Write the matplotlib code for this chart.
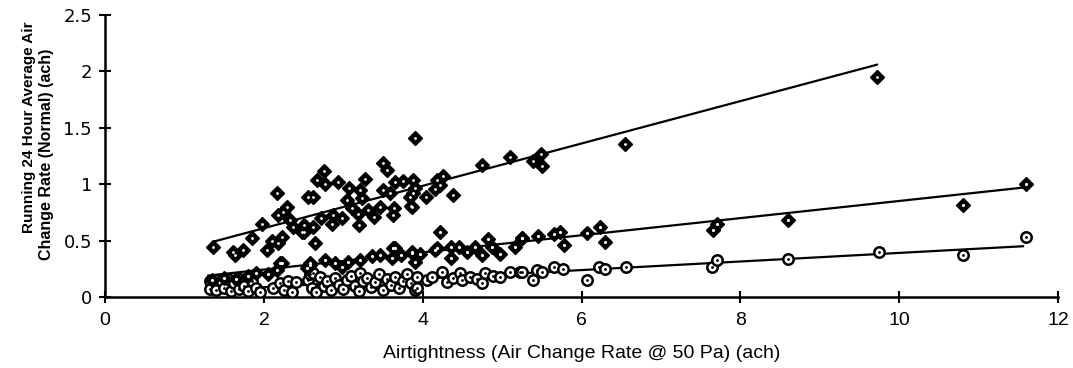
import numpy as np
import matplotlib.pyplot as plt

plt.rcParams['font.family'] = ['Liberation Sans', 'DejaVu Sans']

# upper series (diamonds)
hi_x = [1.36, 1.61, 1.64, 1.73, 1.85, 1.98, 2.04, 2.10, 2.17, 2.18, 2.18, 2.23, 2.24, 2.29, 2.33,
        2.37, 2.48, 2.50, 2.50, 2.56, 2.62, 2.62, 2.64, 2.67, 2.72, 2.75, 2.77, 2.86, 2.87, 2.93,
        2.98, 3.05, 3.07, 3.11, 3.19, 3.20, 3.21, 3.24, 3.27, 3.31, 3.39, 3.46, 3.50, 3.50, 3.55,
        3.59, 3.63, 3.64, 3.65, 3.75, 3.84, 3.85, 3.87, 3.88, 3.88, 3.90, 3.90, 4.04, 4.16, 4.18,
        4.22, 4.26, 4.38, 4.75, 5.10, 5.39, 5.49, 5.50, 6.55, 9.72]
hi_y = [0.44, 0.40, 0.37, 0.42, 0.52, 0.65, 0.42, 0.50, 0.92, 0.48, 0.73, 0.53, 0.75, 0.80, 0.68,
        0.62, 0.58, 0.64, 0.58, 0.89, 0.62, 0.89, 0.48, 1.04, 0.70, 1.12, 1.00, 0.65, 0.73, 1.02,
        0.70, 0.86, 0.97, 0.79, 0.74, 0.64, 0.95, 0.88, 1.05, 0.77, 0.71, 0.80, 1.19, 0.95, 1.13,
        0.92, 0.73, 0.79, 1.02, 1.03, 0.89, 0.81, 0.80, 1.04, 0.92, 1.41, 0.97, 0.89, 0.96, 1.04,
        0.99, 1.07, 0.90, 1.17, 1.24, 1.21, 1.27, 1.16, 1.36, 1.95]

# middle series (diamonds)
mid_x = [1.35, 1.50, 1.65, 1.80, 1.90, 2.05, 2.17, 2.20, 2.23, 2.54, 2.58, 2.58, 2.77, 2.90,
         2.98, 3.06, 3.21, 3.36, 3.46, 3.61, 3.63, 3.65, 3.72, 3.87, 3.87, 3.90, 3.97, 4.16,
         4.18, 4.22, 4.35, 4.35, 4.46, 4.56, 4.66, 4.75, 4.82, 4.87, 4.97, 5.16, 5.25, 5.25,
         5.45, 5.65, 5.73, 5.78, 6.07, 6.23, 6.30, 7.66, 7.70, 8.60, 10.80, 11.60]
mid_y = [0.15, 0.17, 0.16, 0.19, 0.21, 0.20, 0.24, 0.30, 0.30, 0.26, 0.28, 0.30, 0.33, 0.30,
         0.27, 0.31, 0.33, 0.36, 0.37, 0.35, 0.43, 0.43, 0.37, 0.40, 0.39, 0.31, 0.38, 0.42,
         0.43, 0.58, 0.44, 0.35, 0.44, 0.40, 0.44, 0.37, 0.51, 0.44, 0.38, 0.44, 0.52, 0.52,
         0.54, 0.56, 0.58, 0.46, 0.57, 0.62, 0.49, 0.59, 0.65, 0.68, 0.82, 1.00]

# lower series (circles)
lo_x = [1.32, 1.32, 1.40, 1.40, 1.47, 1.50, 1.55, 1.58, 1.62, 1.68, 1.70, 1.75, 1.80, 1.82,
        1.85, 1.90, 1.95, 2.12, 2.20, 2.25, 2.30, 2.35, 2.40, 2.55, 2.58, 2.60, 2.62, 2.65,
        2.70, 2.75, 2.80, 2.85, 2.90, 2.95, 3.00, 3.05, 3.10, 3.15, 3.20, 3.21, 3.25, 3.30,
        3.35, 3.40, 3.45, 3.50, 3.55, 3.60, 3.65, 3.70, 3.75, 3.80, 3.85, 3.90, 3.93, 3.93,
        4.05, 4.12, 4.24, 4.30, 4.38, 4.47, 4.50, 4.60, 4.68, 4.75, 4.79, 4.88, 4.97, 5.10,
        5.23, 5.25, 5.39, 5.44, 5.50, 5.65, 5.76, 6.07, 6.22, 6.30, 6.56, 7.64, 7.70, 8.60,
        9.74, 10.80, 11.60]
lo_y = [0.14, 0.07, 0.15, 0.06, 0.13, 0.08, 0.16, 0.05, 0.12, 0.07, 0.16, 0.10, 0.05, 0.18,
        0.14, 0.08, 0.04, 0.08, 0.12, 0.06, 0.14, 0.04, 0.13, 0.15, 0.20, 0.08, 0.21, 0.04,
        0.18, 0.10, 0.14, 0.06, 0.17, 0.11, 0.07, 0.15, 0.19, 0.10, 0.05, 0.21, 0.14, 0.17,
        0.09, 0.13, 0.20, 0.06, 0.16, 0.11, 0.18, 0.08, 0.14, 0.20, 0.12, 0.06, 0.18, 0.08,
        0.15, 0.18, 0.22, 0.13, 0.17, 0.21, 0.15, 0.18, 0.16, 0.12, 0.21, 0.19, 0.18, 0.22,
        0.22, 0.22, 0.15, 0.24, 0.22, 0.27, 0.25, 0.15, 0.27, 0.25, 0.27, 0.27, 0.33, 0.34,
        0.40, 0.37, 0.53]

# trend lines (end points)
hi_fit_x, hi_fit_y = [1.36, 9.72], [0.49, 2.06]
mid_fit_x, mid_fit_y = [1.30, 11.56], [0.19, 0.97]
lo_fit_x, lo_fit_y = [1.30, 11.56], [0.06, 0.45]

fig = plt.figure(figsize=(10.73, 3.68), dpi=100)
ax = fig.add_axes([0.098, 0.193, 0.888, 0.766])

ax.spines['right'].set_color('none')
ax.spines['top'].set_color('none')
ax.spines['left'].set_linewidth(1.8)
ax.spines['bottom'].set_linewidth(1.8)

for fx, fy in [(hi_fit_x, hi_fit_y), (mid_fit_x, mid_fit_y), (lo_fit_x, lo_fit_y)]:
    ax.plot(fx, fy, color='black', lw=1.6, zorder=2)

ax.plot(lo_x, lo_y, 'o', ms=7.5, mfc='white', mec='black', mew=1.8, zorder=3)
ax.plot(lo_x, lo_y, '.', ms=2, color='black', zorder=4)
ax.plot(mid_x, mid_y, 'D', ms=7, mfc='black', mec='black', zorder=5)
ax.plot(mid_x, mid_y, '.', ms=2.5, color='white', zorder=6)
ax.plot(hi_x, hi_y, 'D', ms=7.5, mfc='black', mec='black', zorder=5)
ax.plot(hi_x, hi_y, '.', ms=2, color='white', zorder=6)

ax.set_xlim(0, 12)
ax.set_ylim(0, 2.5)
ax.set_xticks([0, 2, 4, 6, 8, 10, 12])
ax.set_yticks([0, 0.5, 1, 1.5, 2, 2.5])
ax.set_yticklabels(['0', '0.5', '1', '1.5', '2', '2.5'])
ax.tick_params(axis='x', direction='inout', length=9, width=1.5, labelsize=14, pad=6)
ax.tick_params(axis='y', direction='inout', length=9, width=1.5, labelsize=13, pad=5)
for lab in ax.get_yticklabels():
    lab.set_family('DejaVu Sans')

ax.set_xlabel('Airtightness (Air Change Rate @ 50 Pa) (ach)', fontsize=14, labelpad=12)

# y label, two lines placed as in the scan
fig.text(29 / 1073, 1 - 127 / 368, 'Running 24 Hour Average Air', rotation=90,
         ha='center', va='center', fontsize=11, fontweight='bold')
fig.text(47 / 1073, 1 - 154 / 368, 'Change Rate (Normal) (ach)', rotation=90,
         ha='center', va='center', fontsize=11.5, fontweight='bold')

fig.savefig('out.png', dpi=100)
